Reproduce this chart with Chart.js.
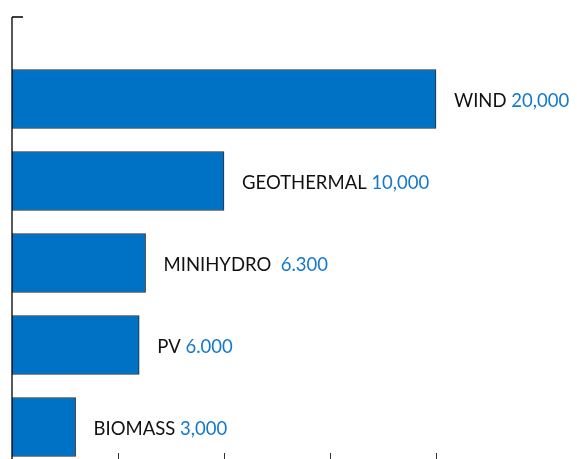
<!DOCTYPE html>
<html>
<head>
<meta charset="utf-8">
<script src="https://cdn.jsdelivr.net/npm/chart.js@4/dist/chart.umd.min.js"></script>
<style>
  html, body { margin: 0; padding: 0; background: #fff; overflow: hidden; }
  #wrap { width: 577px; height: 459px; }
</style>
</head>
<body>
<div id="wrap"><canvas id="chart"></canvas></div>
<script>
// data
const categories = ['WIND', 'GEOTHERMAL', 'MINIHYDRO', 'PV', 'BIOMASS'];
const values = [20000, 10000, 6300, 6000, 3000];
const valueLabels = ['20,000', '10,000', ' 6.300', '6.000', '3,000'];
const xTicks = [5000, 10000, 15000, 20000];

const FONT = '18.5px Lato, "Noto Sans", sans-serif';

// axis line, the little top tick and the bottom tick marks
const axesPlugin = {
    id: 'axes',
    afterDatasetsDraw(chart) {
        const { ctx, chartArea, scales } = chart;
        ctx.save();
        ctx.strokeStyle = '#000';
        ctx.lineWidth = 1.3;
        ctx.beginPath();
        ctx.moveTo(chartArea.left, chartArea.top);
        ctx.lineTo(chartArea.left, chartArea.bottom);
        ctx.moveTo(chartArea.left, chartArea.top);
        ctx.lineTo(chartArea.left + 11, chartArea.top);
        ctx.stroke();
        ctx.lineWidth = 1;
        ctx.strokeStyle = '#333';
        xTicks.forEach(v => {
            const x = Math.round(scales.x.getPixelForValue(v)) + 0.5;
            ctx.beginPath();
            ctx.moveTo(x, chartArea.bottom - 6);
            ctx.lineTo(x, chartArea.bottom);
            ctx.stroke();
        });
        ctx.restore();
    }
};

// "NAME value" after each bar
const barLabels = {
    id: 'barLabels',
    afterDatasetsDraw(chart) {
        const { ctx } = chart;
        const meta = chart.getDatasetMeta(0);
        ctx.save();
        ctx.font = FONT;
        ctx.textBaseline = 'middle';
        ctx.textAlign = 'left';
        meta.data.forEach((bar, i) => {
            const x = bar.x + 18;
            const y = bar.y + 2;
            const name = categories[i] + ' ';
            ctx.fillStyle = '#111';
            ctx.fillText(name, x, y);
            ctx.fillStyle = '#1479CC';
            ctx.fillText(valueLabels[i], x + ctx.measureText(name).width, y);
        });
        ctx.restore();
    }
};

new Chart(document.getElementById('chart'), {
    type: 'bar',
    data: {
        datasets: [{
            data: values.map((v, i) => ({ x: v, y: i })),
            backgroundColor: '#0072C6',
            borderColor: '#2b2b2b',
            borderWidth: 1,
            barThickness: 59
        }]
    },
    options: {
        indexAxis: 'y',
        responsive: true,
        maintainAspectRatio: false,
        animation: false,
        layout: { padding: { left: 12, top: 17, right: 35, bottom: 0 } },
        plugins: { legend: { display: false }, tooltip: { enabled: false } },
        scales: {
            x: { type: 'linear', min: 0, max: 25000, display: false },
            y: { type: 'linear', min: -1, max: 4.39, reverse: true, offset: false, display: false }
        }
    },
    plugins: [axesPlugin, barLabels]
});
</script>
</body>
</html>
